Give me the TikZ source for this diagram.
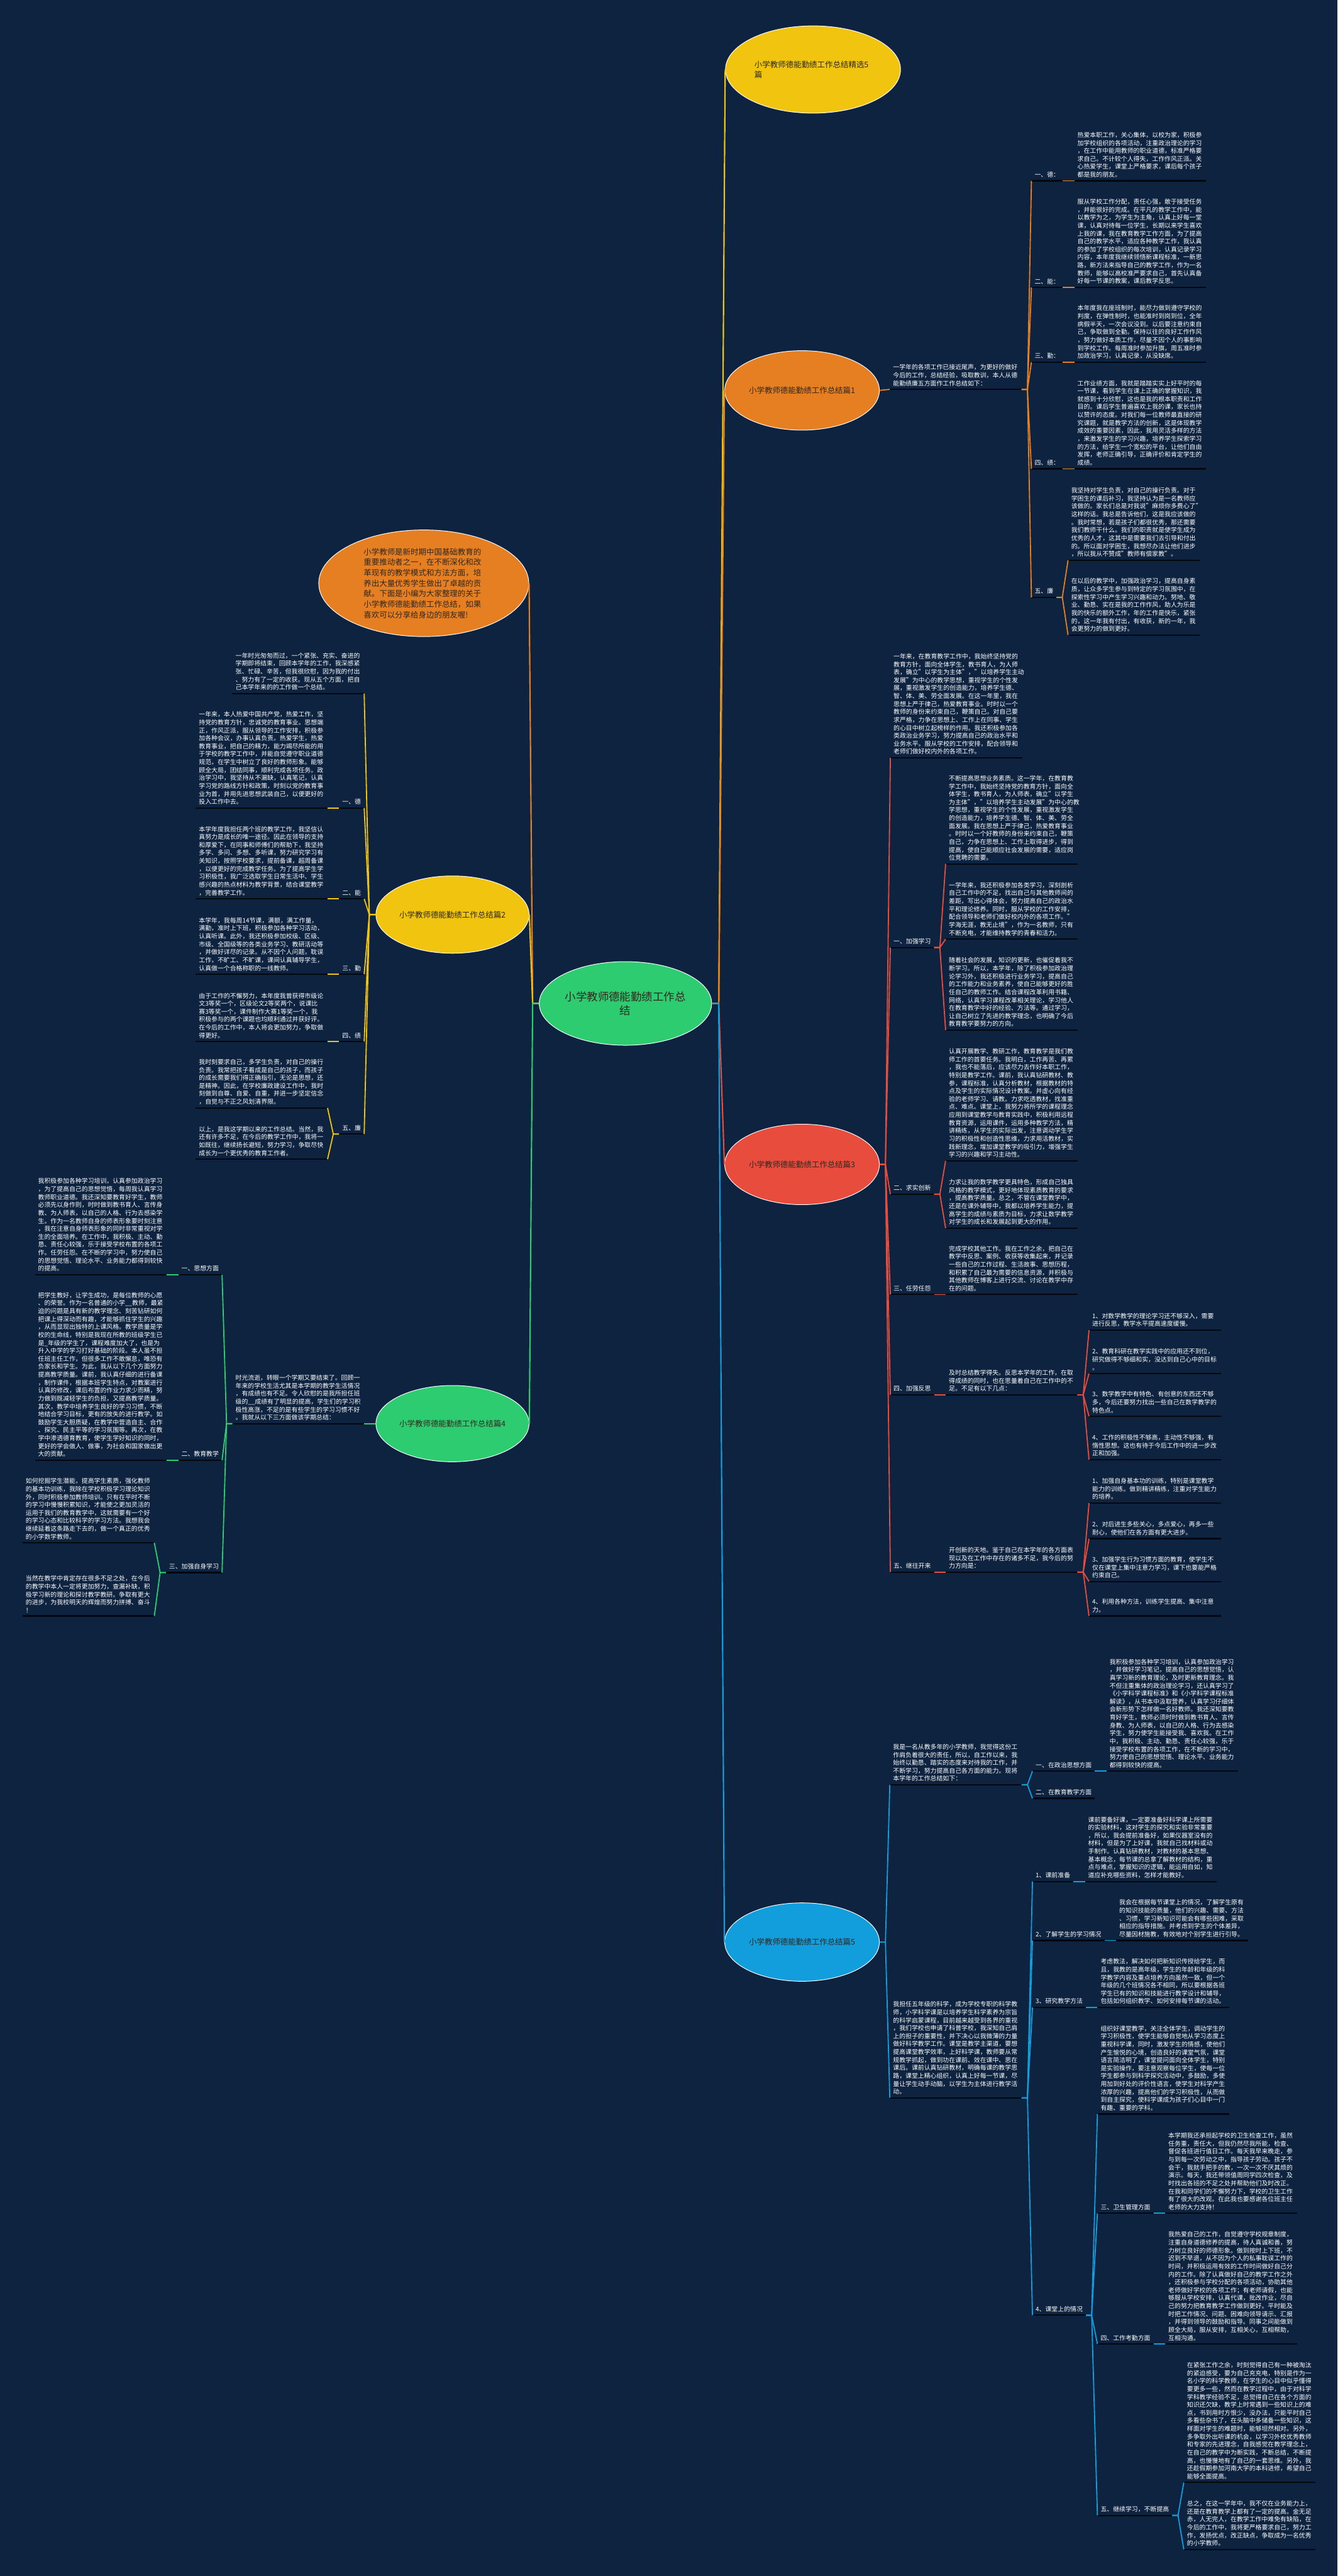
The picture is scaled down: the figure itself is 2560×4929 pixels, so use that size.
\documentclass[tikz,border=0pt]{standalone}
\usepackage{fontspec}
\setmainfont{Noto Sans CJK SC}
\usetikzlibrary{shapes.geometric}
\definecolor{bg}{RGB}{14,35,63}
\definecolor{cY}{RGB}{241,196,15}
\definecolor{cO}{RGB}{230,126,34}
\definecolor{cR}{RGB}{231,76,60}
\definecolor{cG}{RGB}{46,204,113}
\definecolor{cB}{RGB}{18,157,220}
\definecolor{etxt}{RGB}{48,40,32}
\definecolor{ulc}{RGB}{3,8,16}
\newcommand\mA[5]{\node[#1,anchor=south west] (#2) at (#3,#4) {#5};\draw[ul] (#2.south west) -- (#2.south east);}
\newcommand\mB[5]{\node[#1,anchor=south east] (#2) at (#3,#4) {#5};\draw[ul] (#2.south west) -- (#2.south east);}
\newcommand\mR[5]{\path ([xshift=22pt]#3.south east) coordinate (tmpx);\node[#1,anchor=south west] (#2) at (tmpx |- 0,#4) {#5};\draw[ul] (#2.south west) -- (#2.south east);}
\newcommand\mL[5]{\path ([xshift=-22pt]#3.south west) coordinate (tmpx);\node[#1,anchor=south east] (#2) at (tmpx |- 0,#4) {#5};\draw[ul] (#2.south west) -- (#2.south east);}
\newcommand\mCR[3]{\draw[cn,#1] (#2.south east) -- ++(11,0) -- (#3.south west);}
\newcommand\mCL[3]{\draw[cn,#1] (#2.south west) -- ++(-11,0) -- (#3.south east);}
\begin{document}
\begin{tikzpicture}[x=1pt,y=-1pt,
  txt/.style={text=white,font=\fontsize{11.9}{15.2}\selectfont,align=left,text width=240pt,inner xsep=6pt,inner ysep=6pt},
  lab/.style={text=white,font=\fontsize{11.9}{15.2}\selectfont,inner xsep=6pt,inner ysep=6pt},
  ul/.style={draw=ulc,line width=2.6pt},
  cn/.style={line width=2.2pt},
  ell/.style={ellipse,draw=white,line width=1.2pt,text=etxt,inner sep=0pt,font=\fontsize{15}{20}\selectfont}]
\fill[bg] (0,0) rectangle (2560,4929);
\useasboundingbox (0,0) rectangle (2560,4929);

% ---------- main nodes ----------
\node[ell,fill=cG,minimum width=330,minimum height=160,align=center,font=\fontsize{21}{27}\selectfont] (C) at (1197,1920) {小学教师德能勤绩工作总\\结};
\node[ell,fill=cY,minimum width=335,minimum height=167,text width=224pt,align=left] (Y1) at (1556,133) {小学教师德能勤绩工作总结精选5\\篇};
\node[ell,fill=cO,minimum width=296,minimum height=152] (O1) at (1535,747) {小学教师德能勤绩工作总结篇1};
\node[ell,fill=cR,minimum width=296,minimum height=154] (R3) at (1535,2228) {小学教师德能勤绩工作总结篇3};
\node[ell,fill=cB,minimum width=296,minimum height=150] (B5) at (1535,3716) {小学教师德能勤绩工作总结篇5};
\node[ell,fill=cO,minimum width=402,minimum height=204,text width=230pt,align=left] (OD) at (811,1116) {小学教师是新时期中国基础教育的\\重要推动者之一，在不断深化和改\\革现有的教学模式和方法方面，培\\养出大量优秀学生做出了卓越的贡\\献。下面是小编为大家整理的关于\\小学教师德能勤绩工作总结，如果\\喜欢可以分享给身边的朋友喔!};
\node[ell,fill=cY,minimum width=293,minimum height=148] (Y2) at (866,1750) {小学教师德能勤绩工作总结篇2};
\node[ell,fill=cG,minimum width=293,minimum height=146] (G4) at (866,2724) {小学教师德能勤绩工作总结篇4};

\draw[cn,cY,line width=2.6pt] (C.east) -- ++(13,0) -- (Y1.west);
\draw[cn,cO,line width=2.6pt] (C.east) -- ++(13,0) -- (O1.west);
\draw[cn,cR,line width=2.6pt] (C.east) -- ++(13,0) -- (R3.west);
\draw[cn,cB,line width=2.6pt] (C.east) -- ++(13,0) -- (B5.west);
\draw[cn,cO,line width=2.6pt] (C.west) -- ++(-12,0) -- (OD.east);
\draw[cn,cY,line width=2.6pt] (C.west) -- ++(-12,0) -- (Y2.east);
\draw[cn,cG,line width=2.6pt] (C.west) -- ++(-12,0) -- (G4.east);

% ---------- 篇1 ----------
\mA{txt}{p1i}{1703}{745}{一学年的各项工作已接近尾声，为更好的做好\\今后的工作，总结经验，吸取教训，本人从德\\能勤绩廉五方面作工作总结如下：}
\draw[cn,cO] (O1.east) -- (p1i.south west);
\mA{lab}{p1a}{1974}{346}{一、德：}
\mA{lab}{p1b}{1974}{550}{二、能：}
\mA{lab}{p1c}{1974}{693}{三、勤：}
\mA{lab}{p1d}{1974}{897}{四、绩：}
\mA{lab}{p1e}{1974}{1143}{五、廉}
\mR{txt}{p1at}{p1a}{346}{热爱本职工作，关心集体，以校为家，积极参\\加学校组织的各项活动，注重政治理论的学习\\，在工作中能用教师的职业道德，标准严格要\\求自己。不计较个人得失，工作作风正派。关\\心热爱学生，课堂上严格要求，课后每个孩子\\都是我的朋友。}
\mR{txt}{p1bt}{p1b}{550}{服从学校工作分配，责任心强，敢于接受任务\\，并能很好的完成。在平凡的教学工作中，能\\以教学为之，为学生为主角，认真上好每一堂\\课，认真对待每一位学生，长期以来学生喜欢\\上我的课，我在教育教学工作方面，为了提高\\自己的教学水平，适应各种教学工作，我认真\\的参加了学校组织的每次培训，认真记录学习\\内容，本年度我继续领悟新课程标准，一新思\\路，新方法来指导自己的教学工作，作为一名\\教师，能够以高校准严要求自己，首先认真备\\好每一节课的教案，课后教学反思。}
\mR{txt}{p1ct}{p1c}{693}{本年度我在座班制时，能尽力做到遵守学校的\\判度，在弹性制时，也能准时到岗到位，全年\\病假半天，一次会议没到。以后要注意约束自\\己，争取做到全勤。保持以往的良好工作作风\\，努力做好本质工作，尽量不因个人的事影响\\到学校工作。每周准时参加升旗，周五准时参\\加政治学习，认真记录，从没缺席。}
\mR{txt}{p1dt}{p1d}{897}{工作业绩方面，我就是踏踏实实上好平时的每\\一节课，看到学生在课上正确的掌握知识，我\\就感到十分欣慰，这也是我的根本职责和工作\\目的。课后学生普遍喜欢上我的课，家长也持\\以赞许的态度。对我们每一位教师最直接的研\\究课题，就是教学方法的创新，这是体现教学\\成效的重要因素，因此，我用灵活多样的方法\\，来激发学生的学习兴趣，培养学生探索学习\\的方法，给学生一个宽松的平台，让他们自由\\发挥，老师正确引导，正确评价和肯定学生的\\成绩。}
\mR{txt}{p1ea}{p1e}{1072}{我坚持对学生负责，对自己的操行负责。对于\\学困生的课后补习，我坚持认为是一名教师应\\该做的。家长们总是对我说"麻烦你多费心了"\\这样的话。我总是告诉他们，这是我应该做的\\。我时常想，若是孩子们都很优秀，那还需要\\我们教师干什么。我们的职责就是使学生成为\\优秀的人才，这其中是需要我们去引导和付出\\的。所以面对学困生，我想尽办法让他们进步\\，所以我从不赞成"教师有偿家教"。}
\mR{txt}{p1eb}{p1e}{1215}{在以后的教学中，加强政治学习，提高自身素\\质，让众多学生参与到特定的学习氛围中，在\\探索性学习中产生学习兴趣和动力。努地、敬\\业、勤恳、实在是我的工作作风，助人为乐是\\我的快乐的额外工作，年的工作是快乐，紧张\\的，这一年我有付出，有收获，新的一年，我\\会更努力的做到更好。}
\mCR{cO}{p1i}{p1a}\mCR{cO}{p1i}{p1b}\mCR{cO}{p1i}{p1c}\mCR{cO}{p1i}{p1d}\mCR{cO}{p1i}{p1e}
\mCR{cO}{p1a}{p1at}\mCR{cO}{p1b}{p1bt}\mCR{cO}{p1c}{p1ct}\mCR{cO}{p1d}{p1dt}
\mCR{cO}{p1e}{p1ea}\mCR{cO}{p1e}{p1eb}

% ---------- 篇2 ----------
\mB{txt}{p2i}{697}{1327}{一年时光匆匆而过，一个紧张、充实、奋进的\\学期即将结束，回顾本学年的工作，我深感紧\\张、忙碌、辛苦，但我很欣慰，因为我的付出\\、努力有了一定的收获。现从五个方面，把自\\己本学年来的的工作做一个总结。}
\mB{lab}{p2a}{697}{1546}{一、德}
\mB{lab}{p2b}{697}{1720}{二、能}
\mB{lab}{p2c}{697}{1864}{三、勤}
\mB{lab}{p2d}{697}{1993}{四、绩}
\mB{lab}{p2e}{697}{2170}{五、廉}
\foreach \n in {p2i,p2a,p2b,p2c,p2d,p2e} {\draw[cn,cY] (Y2.west) -- ++(-12,0) -- (\n.south east);}
\mL{txt}{p2at}{p2a}{1546}{一年来，本人热爱中国共产党，热爱工作，坚\\持党的教育方针，忠诚党的教育事业。思想端\\正，作风正派，服从领导的工作安排，积极参\\加各种会议，办事认真负责。热爱学生，热爱\\教育事业，把自己的精力，能力竭尽所能的用\\于学校的教学工作中，并能自觉遵守职业道德\\规范，在学生中树立了良好的教师形象。能够\\顾全大局，团结同事，顺利完成各项任务。政\\治学习中，我坚持从不漏缺，认真笔记，认真\\学习党的路线方针和政策，时刻以党的教育事\\业为首，并用先进思想武装自己，以便更好的\\投入工作中去。}
\mL{txt}{p2bt}{p2b}{1720}{本学年度我担任两个班的教学工作，我坚信认\\真努力是成长的唯一途径。因此在领导的支持\\和厚爱下，在同事和师傅们的帮助下，我坚持\\多学、多问、多想、多听课，努力研究学习有\\关知识，按照学校要求，提前备课，超周备课\\，以便更好的完成教学任务。为了提高学生学\\习积极性，我广泛选取学生日常生活中、学生\\感兴趣的热点材料为教学背景，结合课堂教学\\，完善教学工作。}
\mL{txt}{p2ct}{p2c}{1864}{本学年，我每周14节课，满额，满工作量，\\满勤，准时上下班，积极参加各种学习活动，\\认真听课。此外，我还积极参加校级、区级、\\市级、全国级等的各类业务学习、教研活动等\\，并做好详尽的记录。从不因个人问题，耽误\\工作，不旷工、不旷课，课间认真辅导学生，\\认真做一个合格称职的一线教师。}
\mL{txt}{p2dt}{p2d}{1993}{由于工作的不懈努力，本年度我曾获得市级论\\文3等奖一个，区级论文2等奖两个，说课比\\赛3等奖一个，课件制作大赛1等奖一个，我\\积极参与的两个课题也均顺利通过并获好评。\\在今后的工作中，本人将会更加努力，争取做\\得更好。}
\mL{txt}{p2ea}{p2e}{2120}{我时刻要求自己，多学生负责，对自己的操行\\负责。我常把孩子看成是自己的孩子，而孩子\\的成长需要我们得正确指引，无论是思想，还\\是精神。因此，在学校廉政建设工作中，我时\\刻做到自尊、自爱、自重，并进一步坚定信念\\，自觉与不正之风划清界限。}
\mL{txt}{p2eb}{p2e}{2218}{以上，是我这学期以来的工作总结。当然，我\\还有许多不足，在今后的教学工作中，我将一\\如既往，继续扬长避短，努力学习，争取尽快\\成长为一个更优秀的教育工作者。}
\mCL{cY}{p2a}{p2at}\mCL{cY}{p2b}{p2bt}\mCL{cY}{p2c}{p2ct}\mCL{cY}{p2d}{p2dt}\mCL{cY}{p2e}{p2ea}\mCL{cY}{p2e}{p2eb}

% ---------- 篇4 ----------
\mB{txt}{p4i}{697}{2724}{时光流逝，转眼一个学期又要结束了。回顾一\\年来的学校生活尤其是本学期的教学生活情况\\，有成绩也有不足。令人欣慰的是我所担任班\\级的\_\_成绩有了明显的提高，学生们的学习积\\极性高涨，不足的是有些学生的学习习惯不好\\。我就从以下三方面做该学期总结：}
\draw[cn,cG] (G4.west) -- (p4i.south east);
\mB{lab}{p4a}{425}{2439}{一、思想方面}
\mB{lab}{p4b}{425}{2794}{二、教育教学}
\mB{lab}{p4c}{425}{3009}{三、加强自身学习}
\mCL{cG}{p4i}{p4a}\mCL{cG}{p4i}{p4b}\mCL{cG}{p4i}{p4c}
\mL{txt}{p4at}{p4a}{2439}{我积极参加各种学习培训，认真参加政治学习\\，为了提高自己的思想觉悟，每周我认真学习\\教师职业道德。我还深知要教育好学生，教师\\必须先以身作则，时时做到教书育人、言传身\\教、为人师表，以自己的人格、行为去感染学\\生。作为一名教师自身的师表形象要时刻注意\\，我在注意自身师表形象的同时非常重视对学\\生的全面培养。在工作中，我积极、主动、勤\\恳、责任心较强，乐于接受学校布置的各项工\\作。任劳任怨。在不断的学习中，努力使自己\\的思想觉悟、理论水平、业务能力都得到较快\\的提高。}
\mL{txt}{p4bt}{p4b}{2794}{把学生教好，让学生成功，是每位教师的心愿\\、的荣誉。作为一名普通的小学\_\_教师，最紧\\迫的问题是具有新的教学理念、刻苦钻研如何\\把课上得深动而有趣，才能够抓住学生的兴趣\\，从而显现出独特的上课风格。教学质量是学\\校的生命线，特别是我现在所教的班级学生已\\是\_年级的学生了，课程难度加大了，也是为\\升入中学的学习打好基础的阶段。本人虽不担\\任班主任工作，但很多工作不敢懈怠，唯恐有\\负家长和学生。为此，我从以下几个方面努力\\提高教学质量。课前，我认真仔细的进行备课\\，制作课件，根据本班学生特点，对教案进行\\认真的修改，课后布置的作业力求少而精，努\\力做到既减轻学生的负担，又提高教学质量。\\其次，教学中培养学生良好的学习习惯，不断\\地结合学习目标，更有的放失的进行教学。如\\鼓励学生大胆质疑，在教学中营造自主、合作\\、探究、民主平等的学习氛围等。再次，在教\\学中渗透德育教育，使学生学好知识的同时，\\更好的学会做人、做事，为社会和国家做出更\\大的贡献。}
\mL{txt}{p4ca}{p4c}{2952}{如何挖掘学生潜能，提高学生素质，强化教师\\的基本功训练，我除在学校积极学习理论知识\\外，同时积极参加教师培训。只有在平时不断\\的学习中慢慢积累知识，才能使之更加灵活的\\运用于我们的教育教学中，这就需要有一个好\\的学习心态和比较科学的学习方法。我想我会\\继续延着这条路走下去的，做一个真正的优秀\\的小学数学教师。}
\mL{txt}{p4cb}{p4c}{3092}{当然在教学中肯定存在很多不足之处，在今后\\的教学中本人一定将更加努力，查漏补缺，积\\极学习新的理论和探讨教学教研。争取有更大\\的进步，为我校明天的辉煌而努力拼搏、奋斗\\！}
\mCL{cG}{p4a}{p4at}\mCL{cG}{p4b}{p4bt}\mCL{cG}{p4c}{p4ca}\mCL{cG}{p4c}{p4cb}

% ---------- 篇3 ----------
\mA{txt}{p3i}{1704}{1450}{一年来，在教育教学工作中，我始终坚持党的\\教育方针，面向全体学生，教书育人，为人师\\表，确立"以学生为主体"，"以培养学生主动\\发展"为中心的教学思想，重视学生的个性发\\展，重视激发学生的创造能力，培养学生德、\\智、体、美、劳全面发展。在这一年里，我在\\思想上严于律己，热爱教育事业。时时以一个\\教师的身份来约束自己，鞭策自己。对自己要\\求严格，力争在思想上、工作上在同事、学生\\的心目中树立起榜样的作用。我还积极参加各\\类政治业务学习，努力提高自己的政治水平和\\业务水平。服从学校的工作安排，配合领导和\\老师们做好校内外的各项工作。}
\mA{lab}{p3a}{1704}{1813}{一、加强学习}
\mA{lab}{p3b}{1704}{2285}{二、求实创新}
\mA{lab}{p3c}{1704}{2477}{三、任劳任怨}
\mA{lab}{p3d}{1704}{2669}{四、加强反思}
\mA{lab}{p3e}{1704}{3008}{五、继往开来}
\foreach \n in {p3i,p3a,p3b,p3c,p3d,p3e} {\draw[cn,cR] (R3.east) -- ++(11,0) -- (\n.south west);}
\mR{txt}{p3a1}{p3a}{1653}{不断提高思想业务素质。这一学年，在教育教\\学工作中，我始终坚持党的教育方针，面向全\\体学生，教书育人，为人师表，确立"以学生\\为主体"，"以培养学生主动发展"为中心的教\\学思想，重视学生的个性发展，重视激发学生\\的创造能力，培养学生德、智、体、美、劳全\\面发展。我在思想上严于律己，热爱教育事业\\。时时以一个好教师的身份来约束自己，鞭策\\自己，力争在思想上、工作上取得进步，得到\\提高，使自己能顺应社会发展的需要，适应岗\\位竞聘的需要。}
\mR{txt}{p3a2}{p3a}{1797}{一学年来，我还积极参加各类学习，深刻剖析\\自己工作中的不足，找出自己与其他教师间的\\差距，写出心得体会，努力提高自己的政治水\\平和理论修养。同时，服从学校的工作安排，\\配合领导和老师们做好校内外的各项工作。"\\学海无涯，教无止境"，作为一名教师，只有\\不断充电，才能维持教学的青春和活力。}
\mR{txt}{p3a3}{p3a}{1971}{随着社会的发展，知识的更新，也催促着我不\\断学习。所以，本学年，除了积极参加政治理\\论学习外，我还积极进行业务学习，提高自己\\的工作能力和业务素养，使自己能够更好的胜\\任自己的教师工作。结合课程改革利用书籍、\\网络，认真学习课程改革相关理论，学习他人\\在教育教学中好的经验、方法等。通过学习，\\让自己树立了先进的教学理念，也明确了今后\\教育教学要努力的方向。}
\mR{txt}{p3b1}{p3b}{2221}{认真开展教学、教研工作，教育教学是我们教\\师工作的首要任务。我明白，工作再苦、再累\\，我也不能落后，应该尽力去作好本职工作，\\特别是教学工作。课前，我认真钻研教材、教\\参，课程标准，认真分析教材，根据教材的特\\点及学生的实际情况设计教案。并虚心向有经\\验的老师学习、请教。力求吃透教材，找准重\\点、难点。课堂上，我努力将所学的课程理念\\应用到课堂教学与教育实践中，积极利用远程\\教育资源，运用课件，运用多种教学方法，精\\讲精练，从学生的实际出发，注意调动学生学\\习的积极性和创造性思维，力求用活教材，实\\践新理念，增加课堂教学的吸引力，增强学生\\学习的兴趣和学习主动性。}
\mR{txt}{p3b2}{p3b}{2350}{力求让我的数学教学更具特色，形成自己独具\\风格的教学模式，更好地体现素质教育的要求\\，提高教学质量。总之，不管在课堂教学中，\\还是在课外辅导中，我都以培养学生能力，提\\高学生的成绩与素质为目标，力求让数学教学\\对学生的成长和发展起到更大的作用。}
\mR{txt}{p3c1}{p3c}{2477}{完成学校其他工作。我在工作之余，把自己在\\教学中反思、案例、收获等收集起来，并记录\\一些自己的工作过程、生活故事、思想历程，\\和积累了自己最为需要的信息资源，并积极与\\其他教师在博客上进行交流、讨论在教学中存\\在的问题。}
\mR{txt}{p3d1}{p3d}{2669}{及时总结教学得失。反思本学年的工作，在取\\得成绩的同时，也在思量着自己在工作中的不\\足。不足有以下几点：}
\mR{txt}{p3dA}{p3d1}{2545}{1、对数学教学的理论学习还不够深入，需要\\进行反思，教学水平提高速度缓慢。}
\mR{txt}{p3dB}{p3d1}{2628}{2、教育科研在教学实践中的应用还不到位，\\研究做得不够细和实，没达到自己心中的目标\\。}
\mR{txt}{p3dC}{p3d1}{2710}{3、数学教学中有特色、有创意的东西还不够\\多，今后还要努力找出一些自己在数学教学的\\特色点。}
\mR{txt}{p3dD}{p3d1}{2793}{4、工作的积极性不够高，主动性不够强，有\\惰性思想。这也有待于今后工作中的进一步改\\正和加强。}
\mR{txt}{p3e1}{p3e}{3008}{开创新的天地。鉴于自己在本学年的各方面表\\现以及在工作中存在的诸多不足，我今后的努\\力方向是：}
\mR{txt}{p3eA}{p3e1}{2876}{1、加强自身基本功的训练，特别是课堂教学\\能力的训练。做到精讲精练，注重对学生能力\\的培养。}
\mR{txt}{p3eB}{p3e1}{2944}{2、对后进生多些关心，多点爱心，再多一些\\耐心，使他们在各方面有更大进步。}
\mR{txt}{p3eC}{p3e1}{3026}{3、加强学生行为习惯方面的教育，使学生不\\仅在课堂上集中注意力学习，课下也要能严格\\约束自己。}
\mR{txt}{p3eD}{p3e1}{3092}{4、利用各种方法，训练学生提高、集中注意\\力。}
\mCR{cR}{p3a}{p3a1}\mCR{cR}{p3a}{p3a2}\mCR{cR}{p3a}{p3a3}
\mCR{cR}{p3b}{p3b1}\mCR{cR}{p3b}{p3b2}\mCR{cR}{p3c}{p3c1}\mCR{cR}{p3d}{p3d1}
\mCR{cR}{p3d1}{p3dA}\mCR{cR}{p3d1}{p3dB}\mCR{cR}{p3d1}{p3dC}\mCR{cR}{p3d1}{p3dD}
\mCR{cR}{p3e}{p3e1}\mCR{cR}{p3e1}{p3eA}\mCR{cR}{p3e1}{p3eB}\mCR{cR}{p3e1}{p3eC}\mCR{cR}{p3e1}{p3eD}

% ---------- 篇5 ----------
\mA{txt}{p5a}{1703}{3415}{我是一名从教多年的小学教师，我觉得这份工\\作肩负着很大的责任，所以，自工作以来，我\\始终以勤恳、踏实的态度来对待我的工作，并\\不断学习，努力提高自己各方面的能力。现将\\本学年的工作总结如下：}
\mA{txt}{p5b}{1703}{4014}{我担任五年级的科学，成为学校专职的科学教\\师，小学科学课是以培养学生科学素养为宗旨\\的科学启蒙课程，目前越来越受到各界的重视\\，我们学校也申请了科普学校，我深知自己肩\\上的担子的重要性，并下决心以我微薄的力量\\做好科学教学工作。课堂是教学主渠道，要想\\提高课堂教学效率，上好科学课，教师要从常\\规教学抓起，做到功在课前、效在课中、思在\\课后。课前认真钻研教材，明确每课的教学思\\路，课堂上精心组织，认真上好每一节课，尽\\量让学生动手动脑，以学生为主体进行教学活\\动。}
\draw[cn,cB] (B5.east) -- ++(11,0) -- (p5a.south west);
\draw[cn,cB] (B5.east) -- ++(11,0) -- (p5b.south west);
\mA{lab}{p5a1}{1976}{3389}{一、在政治思想方面}
\mA{lab}{p5a2}{1976}{3441}{二、在教育教学方面}
\mCR{cB}{p5a}{p5a1}\mCR{cB}{p5a}{p5a2}
\mR{txt}{p5a1t}{p5a1}{3389}{我积极参加各种学习培训，认真参加政治学习\\，并做好学习笔记，提高自己的思想觉悟，认\\真学习新的教育理论，及时更新教育理念。我\\不但注重集体的政治理论学习，还认真学习了\\《小学科学课程标准》和《小学科学课程标准\\解读》，从书本中汲取营养，认真学习仔细体\\会新形势下怎样做一名好教师。我还深知要教\\育好学生，教师必须时时做到教书育人、言传\\身教、为人师表，以自己的人格、行为去感染\\学生，努力使学生能接受我、喜欢我。在工作\\中，我积极、主动、勤恳、责任心较强，乐于\\接受学校布置的各项工作，在不断的学习中，\\努力使自己的思想觉悟、理论水平、业务能力\\都得到较快的提高。}
\mCR{cB}{p5a1}{p5a1t}
\mA{lab}{p5b1}{1976}{3600}{1、课前准备}
\mA{lab}{p5b2}{1976}{3713}{2、了解学生的学习情况}
\mA{lab}{p5b3}{1976}{3841}{3、研究教学方法}
\mA{lab}{p5b4}{1976}{4430}{4、课堂上的情况}
\mCR{cB}{p5b}{p5b1}\mCR{cB}{p5b}{p5b2}\mCR{cB}{p5b}{p5b3}\mCR{cB}{p5b}{p5b4}
\mR{txt}{p5b1t}{p5b1}{3600}{课前要备好课，一定要准备好科学课上所需要\\的实验材料，这对学生的探究和实验非常重要\\，所以，我会提前准备好，如果仪器室没有的\\材料，但是为了上好课，我就自己找材料或动\\手制作。认真钻研教材，对教材的基本思想、\\基本概念，每节课的总拿了解教材的结构，重\\点与难点，掌握知识的逻辑，能运用自如，知\\道应补充哪些资料，怎样才能教好。}
\mR{txt}{p5b2t}{p5b2}{3713}{我会在根据每节课堂上的情况，了解学生原有\\的知识技能的质量，他们的兴趣、需要、方法\\、习惯，学习新知识可能会有哪些困难，采取\\相应的指导措施。并考虑到学生的个体差异，\\尽量因材施教，有效地对个别学生进行引导。}
\mR{txt}{p5b3t}{p5b3}{3841}{考虑教法，解决如何把新知识传授给学生，而\\且，我教的是高年级，学生的年龄和年级的科\\学教学内容及重点培养方向虽然一致，但一个\\年级的几个班情况各不相同，所以要根据各班\\学生已有的知识和技能进行教学设计和辅导，\\包括如何组织教学、如何安排每节课的活动。}
\mCR{cB}{p5b1}{p5b1t}\mCR{cB}{p5b2}{p5b2t}\mCR{cB}{p5b3}{p5b3t}
\mR{txt}{p5c1}{p5b4}{4045}{组织好课堂教学，关注全体学生，调动学生的\\学习积极性，使学生能够自觉地从学习态度上\\重视科学课，同时，激发学生的情感，使他们\\产生愉悦的心境，创造良好的课堂气氛，课堂\\语言简洁明了，课堂提问面向全体学生，特别\\是实验操作，要注意观察每位学生，使每一位\\学生都参与到科学探究活动中，多鼓励，多使\\用加到好处的评价性语言，使学生对科学产生\\浓厚的兴趣，提高他们的学习积极性，从而做\\到自主探究，使科学课成为孩子们心目中一门\\有趣、重要的学科。}
\mR{lab}{p5c2}{p5b4}{4235}{三、卫生管理方面}
\mR{lab}{p5c3}{p5b4}{4485}{四、工作考勤方面}
\mR{lab}{p5c4}{p5b4}{4813}{五、继续学习，不断提高}
\mCR{cB}{p5b4}{p5c1}\mCR{cB}{p5b4}{p5c2}\mCR{cB}{p5b4}{p5c3}\mCR{cB}{p5b4}{p5c4}
\mR{txt}{p5c2t}{p5c2}{4235}{本学期我还承担起学校的卫生检查工作，虽然\\任务重，责任大，但我仍然尽我所能，检查、\\督促各班进行值日工作。每天我早来晚走，参\\与到每一次劳动之中，指导孩子劳动。孩子不\\会干，我就手把手的教，一次一次不厌其烦的\\演示。每天，我还带领值周同学四次检查，及\\时找出各班的不足之处并帮助他们及时改正。\\在我和同学们的不懈努力下，学校的卫生工作\\有了很大的改观。在此我也要感谢各位班主任\\老师的大力支持！}
\mR{txt}{p5c3t}{p5c3}{4485}{我热爱自己的工作，自觉遵守学校规章制度，\\注重自身道德修养的提高，待人真诚和善，努\\力树立良好的师德形象。做到按时上下班，不\\迟到不早退，从不因为个人的私事耽误工作的\\时间，并积极运用有效的工作时间做好自己分\\内的工作。除了认真做好自己的教学工作之外\\，还积极参与学校分配的各项活动，协助其他\\老师做好学校的各项工作；有老师请假，也能\\够服从学校安排，认真代课，批改作业，尽自\\己的努力把教育教学工作做到更好。平时能及\\时把工作情况、问题、困难向领导请示、汇报\\，并得到领导的鼓励和指导。同事之间能做到\\顾全大局，服从安排，互相关心，互相帮助，\\互相沟通。}
\mR{txt}{p5c4a}{p5c4}{4750}{在紧张工作之余，时刻觉得自己有一种被淘汰\\的紧迫感受，要为自己充充电，特别是作为一\\名小学的科学教师，在学生的心目中似乎懂得\\要更多一些，然而在教学过程中，由于对科学\\学科教学经验不足，总觉得自己在各个方面的\\知识还欠缺，教学上时常遇到一些知识上的难\\点，书到用时方恨少，没办法，只能平时自己\\多看些杂书了，在头脑中多储备一些知识，这\\样面对学生的难题时，能够坦然相对。另外，\\多争取外出听课的机会，以学习外校优秀教师\\和专家的先进理念，自我感觉在教学理念上，\\在自己的教学中为断实践，不断总结，不断提\\高，也慢慢地有了自己的一套思维。另外，我\\还趁假期参加河南大学的本科进修，希望自己\\能够全面提高。}
\mR{txt}{p5c4b}{p5c4}{4878}{总之，在这一学年中，我不仅在业务能力上，\\还是在教育教学上都有了一定的提高。金无足\\赤，人无完人，在教学工作中难免有缺陷，在\\今后的工作中，我将更严格要求自己，努力工\\作，发扬优点，改正缺点，争取成为一名优秀\\的小学教师。}
\mCR{cB}{p5c2}{p5c2t}\mCR{cB}{p5c3}{p5c3t}\mCR{cB}{p5c4}{p5c4a}\mCR{cB}{p5c4}{p5c4b}
\end{tikzpicture}
\end{document}
